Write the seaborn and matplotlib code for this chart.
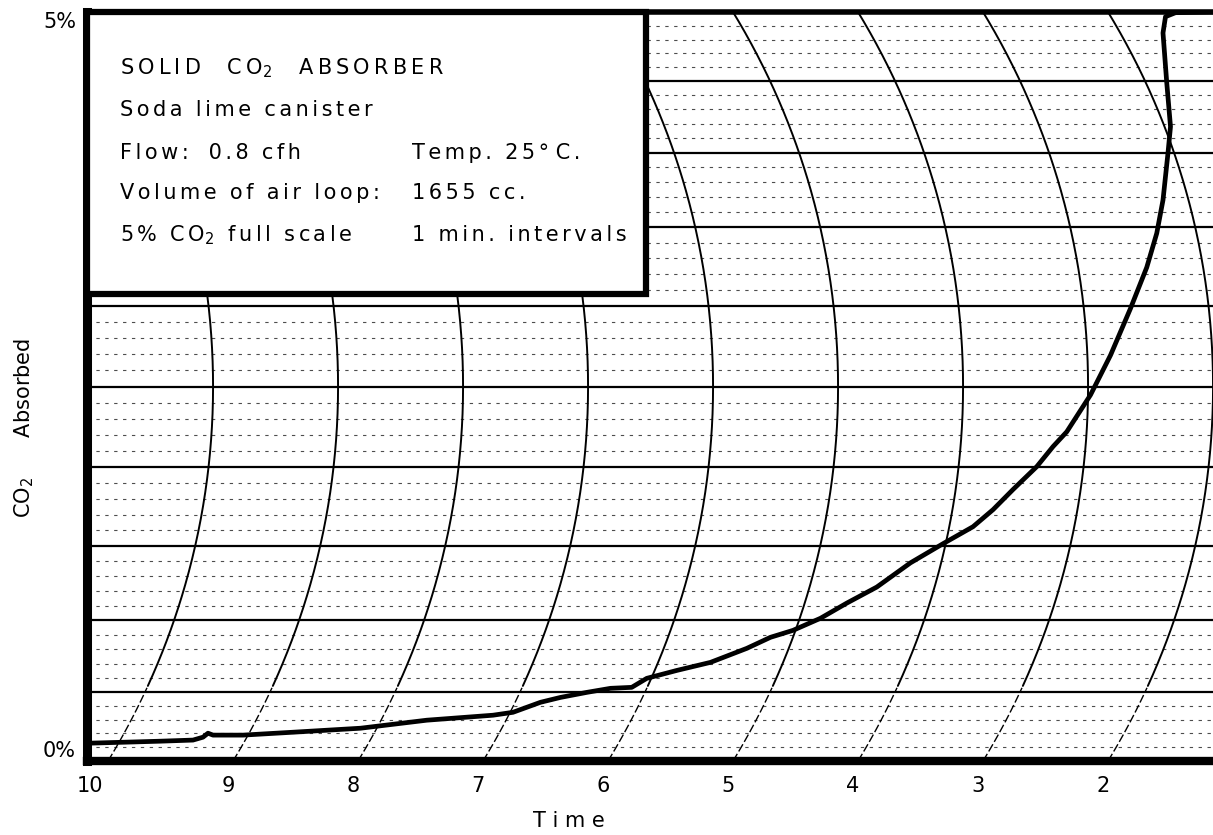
import numpy as np
import matplotlib
matplotlib.use("Agg")
import matplotlib.pyplot as plt
import seaborn as sns
from matplotlib.patches import Rectangle

# time axis (minutes, runs right to left on the chart paper)
time_ticks = [10, 9, 8, 7, 6, 5, 4, 3, 2]
arc_times = [11, 10, 9, 8, 7, 6, 5, 4, 3, 2]

# recorder trace
time_min = [10.09, 9.81, 9.54, 9.28, 9.20, 9.16, 9.12, 8.88, 8.48, 7.94,
            7.41, 6.88, 6.72, 6.50, 6.34, 6.13, 5.94, 5.77, 5.65, 5.41,
            5.14, 4.85, 4.66, 4.48, 4.26, 4.05, 3.81, 3.54, 3.28, 3.04,
            2.88, 2.72, 2.53, 2.40, 2.29, 2.10, 1.94, 1.78, 1.65, 1.57,
            1.52, 1.48, 1.46, 1.49, 1.52, 1.50, 1.42, 1.12]
co2_pct = [0.13, 0.137, 0.144, 0.152, 0.173, 0.202, 0.188, 0.188, 0.209, 0.238,
           0.296, 0.332, 0.353, 0.425, 0.46, 0.496, 0.525, 0.532, 0.596, 0.652,
           0.709, 0.807, 0.884, 0.932, 1.015, 1.118, 1.226, 1.387, 1.512, 1.622,
           1.731, 1.859, 2.003, 2.128, 2.22, 2.448, 2.693, 2.984, 3.243, 3.462,
           3.68, 3.998, 4.179, 4.489, 4.848, 4.966, 4.995, 5.0]

major_levels = [0.5, 1.0, 1.5, 2.0, 2.5, 3.0, 3.5, 4.0, 4.5]
minor_levels = [round(0.1 * i, 1) for i in range(1, 50) if i % 5 != 0]


def spaced(s, gap="\u2006"):
    out = ""
    for i, ch in enumerate(s):
        out += ch
        if i < len(s) - 1 and ch != " " and s[i + 1] != " ":
            out += gap
    return out


sns.set_style("white")
plt.rcParams["font.family"] = ["DejaVu Sans"]
plt.rcParams["text.color"] = "black"
plt.rcParams["xtick.color"] = "black"
plt.rcParams["ytick.color"] = "black"

fig = plt.figure(figsize=(12.13, 8.35), dpi=100)
ax = fig.add_axes([87 / 1213, 74 / 835, 1126 / 1213, 749 / 835])

# chart paper divisions are slightly wider in the middle of the strip
warp = 0.013


def fwd(v):
    u = np.asarray(v, dtype=float) / 5.0
    return u - warp * np.sin(2 * np.pi * u)


grid_v = np.linspace(-5, 10, 3001)
grid_f = fwd(grid_v)


def inv(f):
    return np.interp(f, grid_f, grid_v)


ax.set_yscale("function", functions=(fwd, inv))
xmin, xmax = 10.128, 1.12
ax.set_xlim(xmin, xmax)
ax.set_ylim(0, 5)

for v in minor_levels:
    ax.axhline(v, color="0.3", lw=0.8, ls=(0, (3, 5)), zorder=1)
for v in major_levels:
    ax.axhline(v, color="black", lw=1.6, zorder=2)

# curved time lines of the pen arm
W_px, H_px, R = 1126.0, 749.0, 720.0
px_per_min = W_px / (xmin - xmax)
q = np.linspace(0, 1, 400)
dy = (q - 0.5) * H_px
sag = R - np.sqrt(R ** 2 - (H_px / 2) ** 2)
off = sag - (R - np.sqrt(R ** 2 - dy ** 2))
trans = ax.get_xaxis_transform()
for t in arc_times:
    x = t - 0.04 - off / px_per_min
    up = q >= 0.1
    lo = q <= 0.1
    ax.plot(x[up], q[up], color="black", lw=1.4, transform=trans, zorder=2)
    ax.plot(x[lo], q[lo], color="black", lw=1.0, ls=(0, (6, 2)),
            transform=trans, zorder=2)

sns.lineplot(x=time_min, y=co2_pct, sort=False, estimator=None, color="black",
             lw=3.4, ax=ax, zorder=4, solid_capstyle="round",
             solid_joinstyle="round")

# legend box
box = Rectangle((0, 0.6235), 0.4964, 0.3765, transform=ax.transAxes,
                facecolor="white", edgecolor="black", lw=4.5, zorder=5,
                clip_on=False)
ax.add_patch(box)

fs = 15
c1, c2 = 0.0293, 0.2886
rows = [0.925, 0.8692, 0.8117, 0.7583, 0.7023]
lines_left = [
    spaced("SOLID", "\u2009") + "    " + spaced("CO", "\u2009") + "$_2$" + "    "
    + spaced("ABSORBER", "\u2009"),
    spaced("Soda  lime  canister"),
    spaced("Flow:   0.8  cfh"),
    spaced("Volume  of  air  loop:"),
    spaced("5%  ") + spaced("CO") + "$_2$" + spaced("  full  scale"),
]
lines_right = [None, None, spaced("Temp.  25° C."), spaced("1655  cc."),
               spaced("1  min.  intervals")]
for y, txt in zip(rows, lines_left):
    ax.text(c1, y, txt, transform=ax.transAxes, fontsize=fs, ha="left",
            va="center", zorder=6, color="black")
for y, txt in zip(rows, lines_right):
    if txt:
        ax.text(c2, y, txt, transform=ax.transAxes, fontsize=fs, ha="left",
                va="center", zorder=6, color="black")

for s in ["left", "bottom", "top"]:
    ax.spines[s].set_visible(True)
    ax.spines[s].set_color("black")
ax.spines["left"].set_linewidth(6.5)
ax.spines["bottom"].set_linewidth(6)
ax.spines["top"].set_linewidth(4)
ax.spines["right"].set_visible(False)

ax.set_xticks(time_ticks)
ax.set_xticklabels([str(t) for t in time_ticks])
ax.tick_params(axis="x", length=0, pad=11, labelsize=fs, labelcolor="black")
ax.xaxis.get_ticklabels()[0].set_ha("right")

ax.set_yticks([0, 5])
ax.set_yticklabels(["0%", "5%"])
ax.tick_params(axis="y", length=0, pad=8, labelsize=fs, labelcolor="black")
ylabs = ax.yaxis.get_ticklabels()
ylabs[0].set_va("bottom")
ylabs[1].set_va("top")
ax.minorticks_off()
ax.grid(False)
ax.set_xlabel("")
ax.set_ylabel("")

ax.text(-0.056, 0.445, "CO$_2$      Absorbed", rotation=90, ha="center",
        va="center", transform=ax.transAxes, fontsize=fs, color="black")
ax.text((569 - 87) / 1126, (761 - 821) / 749, "T i m e", ha="center",
        va="center", transform=ax.transAxes, fontsize=fs, color="black")

fig.savefig("out.png", dpi=100)
